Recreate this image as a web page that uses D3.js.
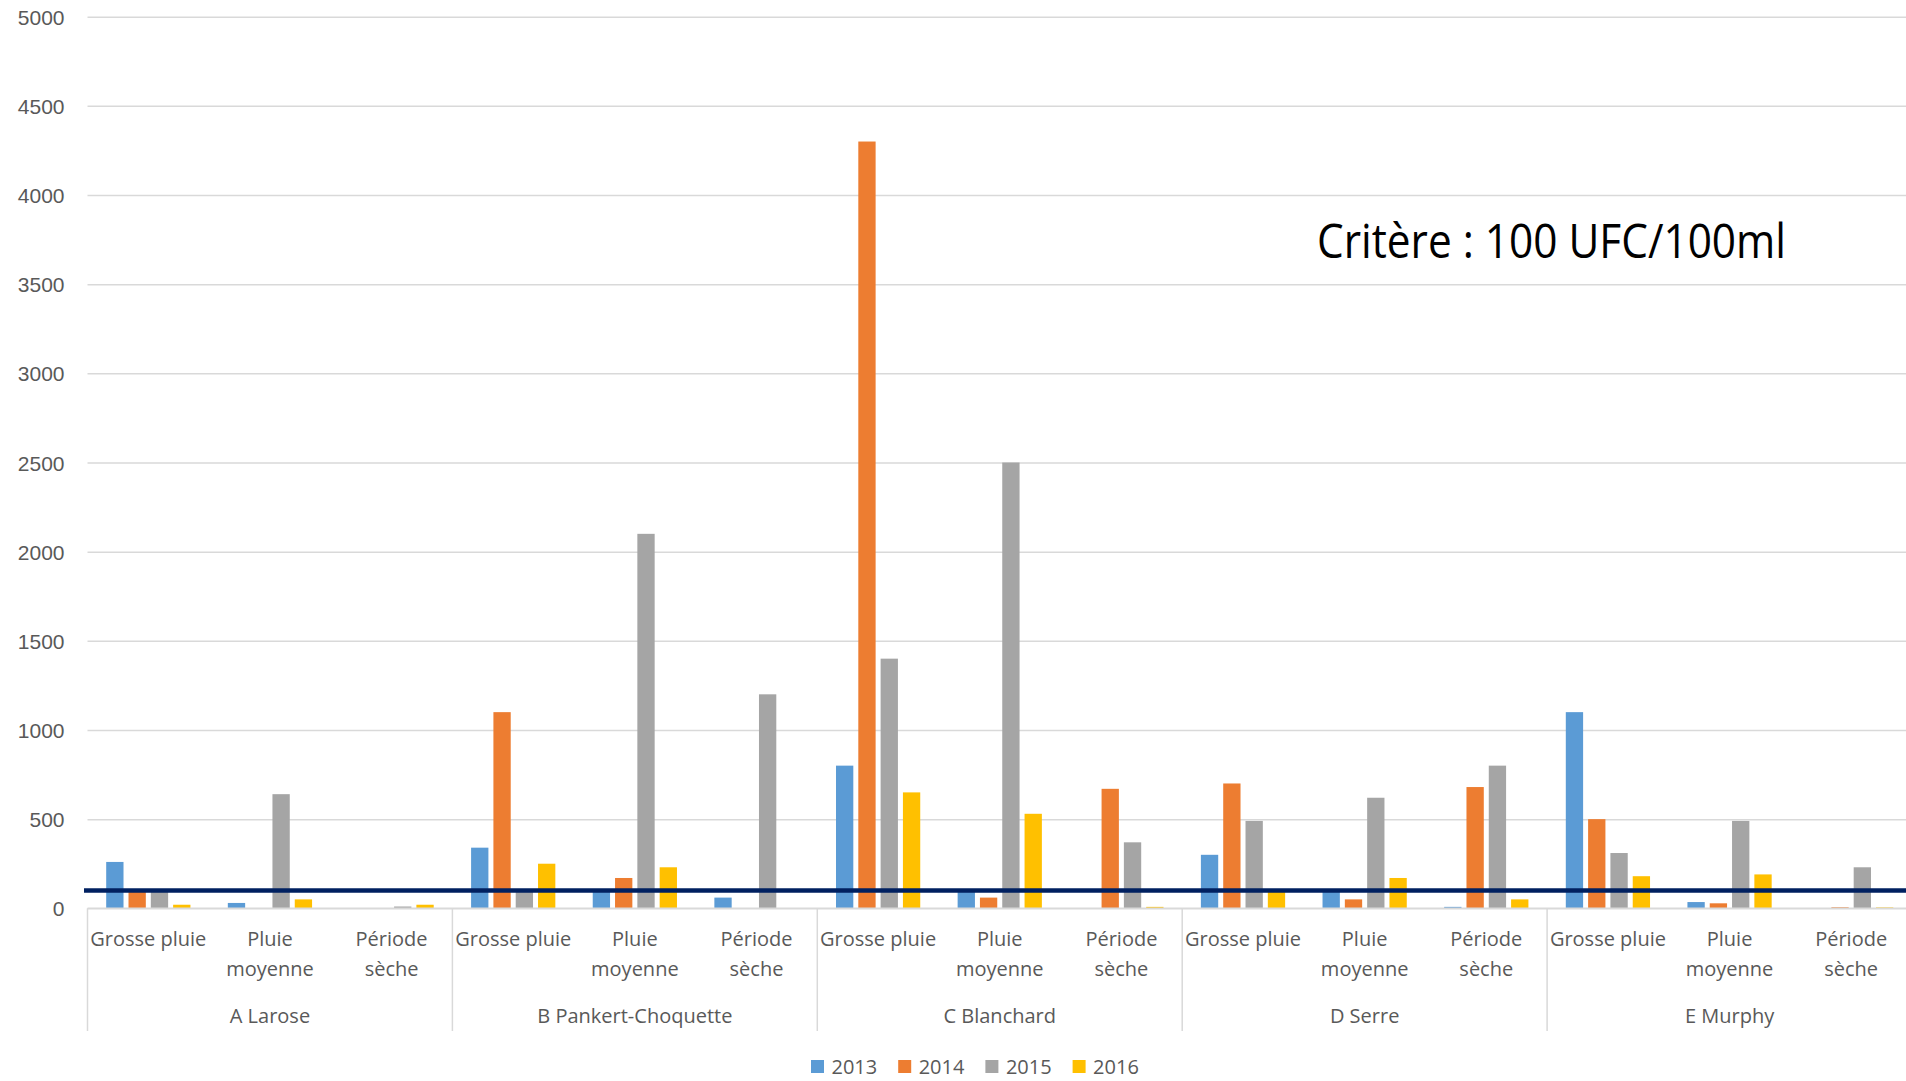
<!DOCTYPE html>
<html lang="fr">
<head>
<meta charset="utf-8">
<title>UFC/100ml par site et par condition</title>
<script src="https://cdn.jsdelivr.net/npm/d3@7"></script>
<style>
  html, body { margin: 0; padding: 0; background: #fff; overflow: hidden; }
  svg { display: block; font-family: "Open Sans", sans-serif; }
  .ytick text { fill: #595959; font-size: 21px; }
  .cat text { fill: #595959; font-size: 20px; }
  .legend text { fill: #595959; font-size: 20px; }
</style>
</head>
<body>
<svg id="chart" width="1906" height="1081"></svg>
<script>
// Sites (outer category level) and rain conditions (inner level)
const sites = ["A Larose", "B Pankert-Choquette", "C Blanchard", "D Serre", "E Murphy"];
const conditions = ["Grosse pluie", "Pluie moyenne", "Période sèche"];
const conditionLines = [["Grosse pluie"], ["Pluie", "moyenne"], ["Période", "sèche"]];
const years = ["2013", "2014", "2015", "2016"];

// UFC/100ml, one value per site × condition (site-major order)
const v2013 = [260, 30, 0, 340, 100, 60, 800, 100, 0, 300, 100, 8, 1100, 35, 0];
const v2014 = [100, 0, 0, 1100, 170, 0, 4300, 60, 670, 700, 50, 680, 500, 28, 6];
const v2015 = [100, 640, 10, 100, 2100, 1200, 1400, 2500, 370, 490, 620, 800, 310, 490, 230];
const v2016 = [20, 50, 20, 250, 230, 0, 650, 530, 8, 100, 170, 50, 180, 190, 5];

const yTicks = [0, 500, 1000, 1500, 2000, 2500, 3000, 3500, 4000, 4500, 5000];
const criterion = 100;
const criterionLabel = "Critère : 100 UFC/100ml";

const colors = ["#5B9BD5", "#ED7D31", "#A5A5A5", "#FFC000"];
const seriesValues = [v2013, v2014, v2015, v2016];

// Flatten into rows for the band scale
const keys = [];
sites.forEach(s => conditions.forEach(c => keys.push(s + "|" + c)));
const rows = keys.map((k, i) => ({
  key: k,
  site: k.split("|")[0],
  cond: k.split("|")[1],
  values: years.map((yr, j) => ({ year: yr, value: seriesValues[j][i] }))
}));

const svg = d3.select("#chart");
const plotLeft = 87.5, plotRight = 1912, plotTop = 16.7, plotBottom = 908.3;

const x0 = d3.scaleBand().domain(keys).range([plotLeft, plotRight]).padding(0);
const x1 = d3.scaleBand().domain(years).range([0, x0.bandwidth()])
  .paddingInner(0.224).paddingOuter(0.838);
const y = d3.scaleLinear().domain([0, 5000]).range([plotBottom, plotTop]);
const color = d3.scaleOrdinal().domain(years).range(colors);

// Y axis with gridlines
const yAxis = svg.append("g")
  .attr("class", "ytick")
  .attr("transform", `translate(${plotLeft},0)`)
  .call(d3.axisLeft(y).tickValues(yTicks).tickFormat(d3.format("d"))
    .tickSize(-(plotRight - plotLeft)).tickPadding(23));
yAxis.select(".domain").remove();
yAxis.selectAll(".tick line").attr("stroke", "#d9d9d9").attr("stroke-width", 1.5);
yAxis.selectAll(".tick text").attr("dy", "0.36em");

// Bars
const groups = svg.append("g").selectAll("g")
  .data(rows).join("g")
  .attr("transform", d => `translate(${x0(d.key)},0)`);
groups.selectAll("rect")
  .data(d => d.values).join("rect")
  .attr("x", d => x1(d.year))
  .attr("width", x1.bandwidth())
  .attr("y", d => y(d.value))
  .attr("height", d => y(0) - y(d.value))
  .attr("fill", d => color(d.year));

// Category axis: baseline, inner labels, site labels, site dividers
const cat = svg.append("g").attr("class", "cat");
cat.append("line")
  .attr("x1", plotLeft).attr("x2", plotRight)
  .attr("y1", y(0)).attr("y2", y(0))
  .attr("stroke", "#d9d9d9").attr("stroke-width", 1.5);

rows.forEach(r => {
  const cx = x0(r.key) + x0.bandwidth() / 2;
  const lines = conditionLines[conditions.indexOf(r.cond)];
  const t = cat.append("text").attr("text-anchor", "middle").attr("x", cx).attr("y", 946);
  lines.forEach((ln, i) => {
    t.append("tspan").attr("x", cx).attr("dy", i === 0 ? 0 : 30).text(ln);
  });
});

const siteSpan = x0.bandwidth() * conditions.length;
sites.forEach(s => {
  const sx = x0(s + "|" + conditions[0]);
  cat.append("text")
    .attr("text-anchor", "middle")
    .attr("x", sx + siteSpan / 2)
    .attr("y", 1023)
    .text(s);
});
d3.range(sites.length + 1).forEach(i => {
  const xx = plotLeft + i * siteSpan;
  cat.append("line")
    .attr("x1", xx).attr("x2", xx)
    .attr("y1", y(0)).attr("y2", 1031)
    .attr("stroke", "#d9d9d9").attr("stroke-width", 1.5);
});

// Criterion threshold line
svg.append("line")
  .attr("x1", 84).attr("x2", 1906)
  .attr("y1", y(criterion)).attr("y2", y(criterion))
  .attr("stroke", "#002060").attr("stroke-width", 4.4);

svg.append("text")
  .attr("x", 1317).attr("y", 257.5)
  .attr("font-size", 47)
  .attr("fill", "#000")
  .attr("textLength", 469)
  .attr("lengthAdjust", "spacingAndGlyphs")
  .text(criterionLabel);

// Legend
const legend = svg.append("g").attr("class", "legend");
years.forEach((yr, i) => {
  const lx = 811 + i * 87.2;
  legend.append("rect")
    .attr("x", lx).attr("y", 1060).attr("width", 13).attr("height", 13)
    .attr("fill", color(yr));
  legend.append("text")
    .attr("x", lx + 20.5).attr("y", 1073.5)
    .text(yr);
});
</script>
</body>
</html>
